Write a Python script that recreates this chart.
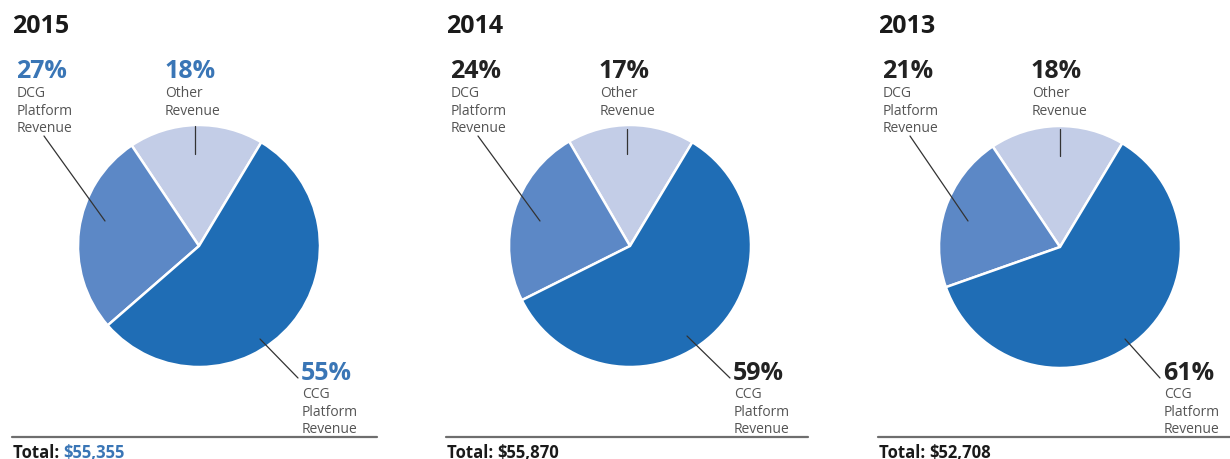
import numpy as np, pandas as pd, matplotlib
matplotlib.use('Agg')
import matplotlib.pyplot as plt, seaborn as sns
from matplotlib.lines import Line2D

### data ###
years = ['2015', '2014', '2013']
ccg = [55, 59, 61]
dcg = [27, 24, 21]
other = [18, 17, 18]
totals = ['$55,355', '$55,870', '$52,708']

sns.set_theme(style='white')
plt.rcParams['font.family'] = ['Open Sans', 'DejaVu Sans']

W, H = 1230, 460
fig = plt.figure(figsize=(W / 100, H / 100), dpi=100)

def px(x, y):
    return x / W, 1 - y / H

pal = ['#c3cde7', '#5c88c6', '#1f6db5']   # other, dcg, ccg
blue_txt = '#3a76b6'
grey_txt = '#555555'

# layout per panel (pixels)
panels = [
    dict(left=12, cx=199, cy=247, r=121, pct_color=blue_txt, ccg_x=301,
         dcg_line=[(44, 137), (105, 222)], oth_line=[(195, 127), (195, 155)],
         ccg_line=[(260, 340), (298, 379)], oth_x=164, line_end=377),
    dict(left=446, cx=630, cy=247, r=121, pct_color='#222222', ccg_x=733,
         dcg_line=[(478, 137), (540, 222)], oth_line=[(627, 130), (627, 155)],
         ccg_line=[(687, 337), (730, 379)], oth_x=599, line_end=808),
    dict(left=878, cx=1060, cy=248, r=121, pct_color='#222222', ccg_x=1163,
         dcg_line=[(910, 137), (968, 222)], oth_line=[(1060, 130), (1060, 157)],
         ccg_line=[(1125, 340), (1160, 379)], oth_x=1031, line_end=1230),
]

for i, p in enumerate(panels):
    l, b = px(p['cx'] - p['r'], p['cy'] + p['r'])
    ax = fig.add_axes([l, b, 2 * p['r'] / W, 2 * p['r'] / H])
    ax.pie([other[i], dcg[i], ccg[i]], colors=pal, startangle=59, counterclock=True,
           radius=1, wedgeprops=dict(edgecolor='white', linewidth=1.8))
    ax.set_xlim(-1, 1); ax.set_ylim(-1, 1); ax.axis('off')

    x0 = p['left']
    fig.text(*px(x0, 33), years[i], fontsize=18, fontweight='bold', color='#1a1a1a', va='baseline')

    # DCG label
    fig.text(*px(x0 + 4, 78), f'{dcg[i]}%', fontsize=18, fontweight='bold', color=p['pct_color'], va='baseline')
    fig.text(*px(x0 + 5, 86), 'DCG\nPlatform\nRevenue', fontsize=10, color=grey_txt, va='top', linespacing=1.24)
    # Other label
    fig.text(*px(p['oth_x'], 78), f'{other[i]}%', fontsize=18, fontweight='bold', color=p['pct_color'], va='baseline')
    fig.text(*px(p['oth_x'] + 1, 86), 'Other\nRevenue', fontsize=10, color=grey_txt, va='top', linespacing=1.24)
    # CCG label
    fig.text(*px(p['ccg_x'], 380), f'{ccg[i]}%', fontsize=18, fontweight='bold', color=p['pct_color'], va='baseline')
    fig.text(*px(p['ccg_x'] + 1, 387), 'CCG\nPlatform\nRevenue', fontsize=10, color=grey_txt, va='top', linespacing=1.24)

    for seg in (p['dcg_line'], p['oth_line'], p['ccg_line']):
        (xa, ya), (xb, yb) = px(*seg[0]), px(*seg[1])
        fig.add_artist(Line2D([xa, xb], [ya, yb], color='#333333', lw=0.9, transform=fig.transFigure))

    # bottom rule + total
    (xa, ya), (xb, yb) = px(x0, 438), px(p['line_end'], 438)
    fig.add_artist(Line2D([xa, xb], [ya, yb], color='#6e6e6e', lw=1.6, transform=fig.transFigure))
    t = fig.text(*px(x0 + 1, 458), 'Total: ', fontsize=12, fontweight='bold', color='#1a1a1a', va='baseline')
    fig.canvas.draw()
    bb = t.get_window_extent()
    fig.text(bb.x1 / W, 1 - 458 / H, totals[i], fontsize=12, fontweight='bold',
             color=blue_txt if i == 0 else '#1a1a1a', va='baseline')

fig.savefig('out.png', dpi=100, facecolor='white')
